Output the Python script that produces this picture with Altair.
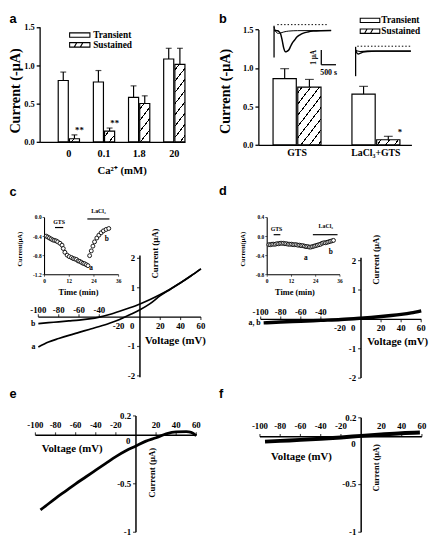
import math
import altair as alt
import pandas as pd

SERIF = "Liberation Serif"
SANS = "Liberation Sans"
INK = "black"
COL_W = [214, 218]
ROW_H = [176, 200, 155]

# ---------------- data ----------------
SERIES = ["Transient", "Sustained"]
BAR_YTICKS = [0.0, 0.5, 1.0, 1.5]

# (a) current vs external Ca2+
A_CA = ["0", "0.1", "1.8", "20"]
A_TRANS = [0.80, 0.78, 0.58, 1.08]
A_TRANS_ERR = [0.11, 0.15, 0.15, 0.14]
A_SUST = [0.04, 0.14, 0.50, 1.01]
A_SUST_ERR = [0.05, 0.04, 0.10, 0.21]
A_SIG = ["**", "**", "", ""]

# (b) GTS vs LaCl3+GTS
B_COND = ["GTS", "LaCl₃+GTS"]
B_TRANS = [0.86, 0.66]
B_TRANS_ERR = [0.13, 0.10]
B_SUST = [0.75, 0.065]
B_SUST_ERR = [0.10, 0.045]
B_SIG = ["", "*"]

# (b) inset current traces: time (s), current (uA, relative to holding)
BL1_T = [0, 120, 170, 222, 277, 333, 387, 440, 500, 555, 610, 700, 777, 880, 1000, 1150, 1333, 1600, 1943]
BL1_I = [0, -0.02, -0.08, -0.22, -0.67, -1.22, -1.45, -1.42, -1.33, -1.12, -0.89, -0.65, -0.45, -0.30, -0.18, -0.10, -0.04, -0.01, 0]
BL2_T = [0, 40, 90, 150, 220, 330, 500, 800, 1943]
BL2_I = [0.25, 0.0, -0.15, -0.20, -0.17, -0.10, -0.04, -0.01, 0]
BL_ART = [0.33, -1.83]
BL_DOT_T = [110, 1833]
BL_DOT_I = 0.40
BR1_T = [0, 40, 90, 150, 250, 400, 700, 1880]
BR1_I = [0.10, -0.12, -0.20, -0.16, -0.08, -0.03, -0.01, 0]
BR2_T = [0, 60, 150, 400, 1880]
BR2_I = [0.05, 0.0, -0.03, -0.01, 0]
BR_ART = [0.29, -1.71]
BR_DOT_T = [57, 1880]
BR_DOT_I = 0.33
SCALEBAR_S = 500
SCALEBAR_UA = 1
SCALEBAR_AT = (1608, -1.33)

# (c) I-V curves a, b and time course inset
C_V = [-100, -90, -80, -70, -60, -50, -40, -30, -20, -10, 0, 10, 20, 30, 40, 50, 60]
C_A = [-1.02, -0.85, -0.73, -0.62, -0.52, -0.42, -0.32, -0.21, -0.08, 0.08, 0.25, 0.46, 0.73, 0.95, 1.17, 1.40, 1.64]
C_B = [-0.22, -0.19, -0.16, -0.13, -0.10, -0.06, 0.00, 0.09, 0.20, 0.32, 0.45, 0.60, 0.77, 0.96, 1.17, 1.40, 1.64]
C_INSET_T = [0.8, 1.6, 2.4, 3.2, 4.0, 4.8, 5.6, 6.4, 7.5, 8.5, 9.1, 9.9, 11.0, 12.0, 13.1, 13.9, 14.7,
             15.5, 16.3, 17.1, 17.9, 18.7, 19.5, 20.3, 21.1, 21.9, 22.7, 23.5, 24.3, 25.4, 26.4, 27.5,
             28.6, 29.9, 31.2]
C_INSET_I = [-0.39, -0.41, -0.43, -0.45, -0.47, -0.48, -0.49, -0.51, -0.54, -0.58, -0.65, -0.73, -0.79,
             -0.82, -0.84, -0.86, -0.87, -0.88, -0.91, -0.92, -0.94, -0.96, -0.97, -0.99, -1.01, -0.80,
             -0.70, -0.60, -0.51, -0.43, -0.37, -0.32, -0.28, -0.25, -0.23]
C_GTS = ([5.1, 9.1], -0.21)
C_LACL = ([20.8, 31.5], -0.03)

# (d)
D_V = [-97, -80, -60, -40, -20, 0, 10, 20, 30, 40, 50, 60]
D_I = [-0.12, -0.09, -0.065, -0.035, -0.005, 0.04, 0.065, 0.095, 0.13, 0.17, 0.22, 0.29]
D_INSET_T = [0.8, 1.6, 2.4, 3.2, 4.0, 4.8, 5.6, 6.4, 7.2, 8.0, 8.8, 9.6, 10.4, 11.2, 12.0, 12.8, 13.6,
             14.4, 15.2, 16.0, 16.8, 17.6, 18.4, 19.2, 20.0, 20.8, 21.6, 22.4, 23.2, 24.0, 24.8, 25.6,
             26.4, 27.2, 28.0, 28.8, 29.6, 30.4, 31.2, 32.0, 32.8]
D_INSET_I = [-0.17, -0.17, -0.16, -0.16, -0.16, -0.15, -0.15, -0.14, -0.14, -0.14, -0.15, -0.15, -0.16,
             -0.16, -0.16, -0.17, -0.17, -0.17, -0.18, -0.18, -0.19, -0.19, -0.20, -0.21, -0.21, -0.22,
             -0.22, -0.21, -0.20, -0.19, -0.18, -0.17, -0.16, -0.14, -0.13, -0.13, -0.12, -0.11, -0.10,
             -0.09, -0.08]
D_GTS = ([3.2, 6.5], 0.04)
D_LACL = ([22.6, 34.8], 0.04)

# (e), (f)
E_V = [-95, -90, -80, -70, -60, -50, -40, -30, -20, -10, 0, 10, 20, 30, 40, 50, 55, 60]
E_I = [-0.77, -0.73, -0.65, -0.575, -0.50, -0.43, -0.36, -0.29, -0.22, -0.16, -0.11, -0.06, -0.025,
       0.015, 0.035, 0.037, 0.03, -0.005]
F_V = [-95, -80, -60, -40, -20, 0, 20, 40, 58]
F_I = [-0.05, -0.042, -0.032, -0.02, -0.006, 0.01, 0.025, 0.038, 0.045]

# tick values
CD_XTOP = [-100, -80, -60, -40]
CD_XBOT = [20, 40, 60]
CD_YT = [2, 1, -1, -2]
EF_XTOP = [-100, -80, -60, -40, -20, 20, 40, 60]
EF_YT = [0.2, -0.5, -1]
INSET_XT = [0, 12, 24, 36]
C_INSET_YT = [0.0, -0.4, -0.8, -1.2]
D_INSET_YT = [0.4, 0.0, -0.4, -0.8]

V_TITLE = "Voltage (mV)"
I_TITLE = "Current (μA)"
BAR_YTITLE = "Current (-μA)"


# ---------------- helpers ----------------
def lin(dom, rng):
    return alt.Scale(domain=dom, range=rng, nice=False, zero=False)


def lab(v):
    return f"{v:g}"


def XQ(f, s):
    return alt.X(f, scale=s, axis=None)


def YQ(f, s):
    return alt.Y(f, scale=s, axis=None)


def hrule(xs, ys, x0, x1, yv, w=1.5, dash=None):
    kw = dict(color=INK, strokeWidth=w)
    if dash:
        kw["strokeDash"] = dash
    df = pd.DataFrame({"x0": [x0], "x1": [x1], "y": [yv]})
    return alt.Chart(df).mark_rule(**kw).encode(x=XQ("x0:Q", xs), x2="x1:Q", y=YQ("y:Q", ys))


def vrule(xs, ys, xv, y0, y1, w=1.5):
    df = pd.DataFrame({"x": [xv], "y0": [y0], "y1": [y1]})
    return alt.Chart(df).mark_rule(color=INK, strokeWidth=w).encode(x=XQ("x:Q", xs), y=YQ("y0:Q", ys), y2="y1:Q")


def xticks(xs, ys, vals, at, off, size=3, th=1.2):
    df = pd.DataFrame({"v": vals, "z": [at] * len(vals)})
    return alt.Chart(df).mark_tick(orient="vertical", size=size, thickness=th, yOffset=off, color=INK).encode(
        x=XQ("v:Q", xs), y=YQ("z:Q", ys))


def yticks(xs, ys, vals, at, off, size=3, th=1.2):
    df = pd.DataFrame({"v": vals, "z": [at] * len(vals)})
    return alt.Chart(df).mark_tick(orient="horizontal", size=size, thickness=th, xOffset=off, color=INK).encode(
        x=XQ("z:Q", xs), y=YQ("v:Q", ys))


def tlabels(xs, ys, xv, yv, texts, size, align="center", baseline="alphabetic", dx=0, dy=0, angle=0):
    kw = dict(font=SERIF, fontWeight="bold", fontSize=size, align=align, baseline=baseline, dx=dx, dy=dy, color=INK)
    if angle:
        kw["angle"] = angle
    df = pd.DataFrame({"x": xv, "y": yv, "t": texts})
    return alt.Chart(df).mark_text(**kw).encode(x=XQ("x:Q", xs), y=YQ("y:Q", ys), text="t:N")


def ptext(x, y, s, size, font=SERIF, align="center", baseline="middle", angle=0):
    kw = dict(font=font, fontWeight="bold", fontSize=size, align=align, baseline=baseline, color=INK)
    if angle:
        kw["angle"] = angle
    return alt.Chart(pd.DataFrame({"t": [s]})).mark_text(**kw).encode(x=alt.value(x), y=alt.value(y), text="t:N")


def curve(xs, ys, xv, yv, w):
    df = pd.DataFrame({"x": xv, "y": yv})
    return alt.Chart(df).mark_line(color=INK, strokeWidth=w, interpolate="monotone").encode(
        x=XQ("x:Q", xs), y=YQ("y:Q", ys))


def circles(xs, ys, xv, yv):
    df = pd.DataFrame({"x": xv, "y": yv})
    return alt.Chart(df).mark_point(shape="circle", size=16, filled=True, fill="white", stroke=INK,
                                    strokeWidth=0.9, opacity=1).encode(x=XQ("x:Q", xs), y=YQ("y:Q", ys))


def hatch(w, h, spacing=7.0, lw=1.0, slope=1.3):
    a, b = w * slope, h
    k = (a + b) / (a * a + b * b)
    L = (slope * w + h) / math.sqrt(1 + slope * slope)
    d = lw / 2 / L
    stops = [alt.GradientStop(color="white", offset=0)]
    c = spacing * 0.5 / L
    while c + d < 1:
        stops += [alt.GradientStop(color="white", offset=c - d), alt.GradientStop(color=INK, offset=c - d),
                  alt.GradientStop(color=INK, offset=c + d), alt.GradientStop(color="white", offset=c + d)]
        c += spacing / L
    stops.append(alt.GradientStop(color="white", offset=1))
    return alt.LinearGradient(gradient="linear", stops=stops, x1=0, y1=0, x2=k * a, y2=k * b)


BOX = "M-1,-0.22H1V0.22H-1Z"
BOX_HATCH = "M-1,-0.22H1V0.22H-1Z M-0.55,0.22L-0.3,-0.22 M0.05,0.22L0.3,-0.22"


def legend(x, y_list, tx, size, box_size):
    out = []
    for s, yv, shp in zip(SERIES, y_list, [BOX, BOX_HATCH]):
        out.append(alt.Chart(pd.DataFrame({"s": [s]})).mark_point(
            shape=shp, size=box_size, filled=True, fill="white", stroke=INK, strokeWidth=1.1, opacity=1
        ).encode(x=alt.value(x), y=alt.value(yv)))
        out.append(ptext(tx, yv, s, size, align="left"))
    return out


def bar_layers(cats, trans, terr, sust, serr, sig, H, x_rng, pin, pout, xalign, sub_pin, y0, ppu,
               xlab_pad, xlab_size, cap, sig_dy):
    rows = []
    for i, c in enumerate(cats):
        rows.append({"cat": c, "series": "Transient", "value": trans[i], "upper": trans[i] + terr[i], "sig": ""})
        rows.append({"cat": c, "series": "Sustained", "value": sust[i], "upper": sust[i] + serr[i], "sig": sig[i]})
    df = pd.DataFrame(rows)
    xs = alt.Scale(domain=cats, range=x_rng, paddingInner=pin, paddingOuter=pout, align=xalign)
    os_ = alt.Scale(domain=SERIES, paddingInner=sub_pin, paddingOuter=0)
    ys = alt.Scale(domain=[0, 1.5], range=[y0, y0 - 1.5 * ppu], nice=False, zero=False)
    x_axis = alt.Axis(orient="bottom", offset=y0 - H, ticks=False, tickSize=0, labelAngle=0,
                      labelPadding=xlab_pad, labelFont=SERIF, labelFontWeight="bold", labelFontSize=xlab_size,
                      labelColor=INK, domainColor=INK, domainWidth=1.3, title=None, labelOverlap=False,
                      grid=False)
    y_axis = alt.Axis(orient="left", offset=-x_rng[0], values=BAR_YTICKS, format=".1f", tickSize=3.5,
                      tickColor=INK, tickWidth=1.3, labelPadding=2, labelFont=SERIF, labelFontWeight="bold",
                      labelFontSize=8.5, labelColor=INK, domainColor=INK, domainWidth=1.3, title=None,
                      grid=False, labelOverlap=False)
    XO = alt.XOffset("series:N", scale=os_)
    X0 = alt.X("cat:N", scale=xs, axis=None)
    Y0 = alt.Y("value:Q", scale=ys, axis=None)
    layers = []
    layers.append(alt.Chart(df).transform_filter(alt.datum.series == "Transient").mark_bar(
        fill="white", stroke=INK, strokeWidth=1.2).encode(
        x=alt.X("cat:N", scale=xs, axis=x_axis), xOffset=XO, y=alt.Y("value:Q", scale=ys, axis=y_axis)))
    step = (x_rng[1] - x_rng[0]) / (len(cats) - pin + 2 * pout)
    bw = step * (1 - pin)
    sub_w = bw / (2 - sub_pin) * (1 - sub_pin)
    for i, c in enumerate(cats):
        g = hatch(sub_w, sust[i] * ppu)
        layers.append(alt.Chart(df).transform_filter(
            (alt.datum.cat == c) & (alt.datum.series == "Sustained")
        ).mark_bar(fill=g, stroke=INK, strokeWidth=1.2).encode(x=X0, xOffset=XO, y=Y0))
    layers.append(alt.Chart(df).mark_rule(color=INK, strokeWidth=1.2).encode(
        x=X0, xOffset=XO, y=Y0, y2="upper:Q"))
    layers.append(alt.Chart(df).mark_tick(orient="horizontal", size=cap, thickness=1.2, color=INK).encode(
        x=X0, xOffset=XO, y=alt.Y("upper:Q", scale=ys, axis=None)))
    layers.append(alt.Chart(df).transform_filter(alt.datum.sig != "").mark_text(
        font=SERIF, fontWeight="bold", fontSize=9, baseline="alphabetic", dy=sig_dy, color=INK).encode(
        x=X0, xOffset=XO, y=alt.Y("upper:Q", scale=ys, axis=None), text="sig:N"))
    return layers


def panel(layers, w, h):
    return alt.layer(*layers).resolve_scale(x="independent", y="independent", xOffset="independent").properties(
        width=w, height=h)


def iv_axes(xs, ys, yext, xtop, xbot, yt, top_dy, bot_dy, near, fs=9):
    L = [hrule(xs, ys, -100, 60, 0), vrule(xs, ys, 0, yext[0], yext[1])]
    L.append(xticks(xs, ys, xtop, 0, -1.5))
    if xbot:
        L.append(xticks(xs, ys, xbot, 0, 1.5))
    L.append(yticks(xs, ys, yt, 0, -1.5))
    L.append(tlabels(xs, ys, xtop, [0] * len(xtop), [lab(v) for v in xtop], fs, dy=top_dy))
    if xbot:
        L.append(tlabels(xs, ys, xbot, [0] * len(xbot), [lab(v) for v in xbot], fs, dy=bot_dy))
    for v, dx, dy in near:
        L.append(tlabels(xs, ys, [v], [0], [lab(v)], fs, dx=dx, dy=dy))
    L.append(tlabels(xs, ys, [0] * len(yt), yt, [lab(v) for v in yt], fs, align="right", baseline="middle", dx=-5))
    return L


def inset(xs, ys, yt, T, I, gts, lacl, gts_lab_y, lacl_lab_y, gts_lab_x, lacl_lab_x, a_pos, b_pos):
    L = [vrule(xs, ys, 0, yt[-1], yt[0], 1.1), hrule(xs, ys, 0, 36, yt[-1], 1.1)]
    L.append(yticks(xs, ys, yt, 0, -1, size=2, th=0.9))
    L.append(xticks(xs, ys, INSET_XT, yt[-1], 1, size=2, th=0.9))
    L.append(tlabels(xs, ys, [0] * len(yt), yt, [f"{v:.1f}" for v in yt], 5.5, align="right",
                     baseline="middle", dx=-3))
    L.append(tlabels(xs, ys, INSET_XT, [yt[-1]] * len(INSET_XT), [lab(v) for v in INSET_XT], 5.5, dy=8))
    L.append(hrule(xs, ys, gts[0][0], gts[0][1], gts[1], 1.2))
    L.append(hrule(xs, ys, lacl[0][0], lacl[0][1], lacl[1], 1.2))
    L.append(tlabels(xs, ys, [gts_lab_x], [gts_lab_y], ["GTS"], 6, baseline="middle"))
    L.append(tlabels(xs, ys, [lacl_lab_x], [lacl_lab_y], ["LaCl₃"], 6, baseline="middle"))
    L.append(circles(xs, ys, T, I))
    L.append(tlabels(xs, ys, [a_pos[0]], [a_pos[1]], ["a"], 7.5, baseline="middle"))
    L.append(tlabels(xs, ys, [b_pos[0]], [b_pos[1]], ["b"], 7.5, baseline="middle"))
    return L


# ---------------- panel a ----------------
la = bar_layers(A_CA, A_TRANS, A_TRANS_ERR, A_SUST, A_SUST_ERR, A_SIG, ROW_H[0], [31.3, 179.7], 0.395,
                0.2644, 1.0, 0.1, 129, 78.3, 6.5, 10.5, 6, -2)
la += legend(72.3, [20, 30], 86, 9.5, 430)
la.append(ptext(0.5, 77, BAR_YTITLE, 14.5, baseline="top", angle=270))
la.append(ptext(115.5, 159, "Ca²⁺ (mM)", 11))
la.append(ptext(0.5, 4, "a", 13, font=SANS, align="left"))
panel_a = panel(la, COL_W[0], ROW_H[0])

# ---------------- panel b ----------------
lb = bar_layers(B_COND, B_TRANS, B_TRANS_ERR, B_SUST, B_SUST_ERR, B_SIG, ROW_H[0], [40.7, 197], 0.392,
                0.166, 0.56, 0.06, 132, 78.5, 2.5, 10, 9, -1)
lb += legend(154.7, [5, 16], 166.3, 9.5, 400)
lb.append(ptext(0.5, 77.5, BAR_YTITLE, 14.5, baseline="top", angle=270))
lb.append(ptext(0.5, 4, "b", 13, font=SANS, align="left"))
bl_xs = lin([0, 2200], [56.7, 122.7])
bl_ys = lin([-2.5, 1], [52.8, 0.3])
br_xs = lin([0, 2200], [140, 206])
br_ys = lin([-2.5, 1], [73.8, 21.3])
lb.append(hrule(bl_xs, bl_ys, BL_DOT_T[0], BL_DOT_T[1], BL_DOT_I, 1.0, dash=[1.5, 2]))
lb.append(vrule(bl_xs, bl_ys, 0, BL_ART[0], BL_ART[1], 1.3))
lb.append(curve(bl_xs, bl_ys, BL2_T, BL2_I, 1.0))
lb.append(curve(bl_xs, bl_ys, BL1_T, BL1_I, 1.5))
lb.append(hrule(br_xs, br_ys, BR_DOT_T[0], BR_DOT_T[1], BR_DOT_I, 1.0, dash=[1.5, 2]))
lb.append(vrule(br_xs, br_ys, 0, BR_ART[0], BR_ART[1], 1.3))
lb.append(curve(br_xs, br_ys, BR2_T, BR2_I, 1.2))
lb.append(curve(br_xs, br_ys, BR1_T, BR1_I, 1.3))
sb_t, sb_i = SCALEBAR_AT
lb.append(vrule(bl_xs, bl_ys, sb_t, sb_i, sb_i - SCALEBAR_UA, 1.3))
lb.append(hrule(bl_xs, bl_ys, sb_t, sb_t + SCALEBAR_S, sb_i - SCALEBAR_UA, 1.3))
lb.append(tlabels(bl_xs, bl_ys, [sb_t], [sb_i - SCALEBAR_UA / 2], [f"{SCALEBAR_UA} μA"], 7.5,
                  baseline="bottom", dy=-3, angle=270))
lb.append(tlabels(bl_xs, bl_ys, [sb_t + SCALEBAR_S / 2], [sb_i - SCALEBAR_UA], [f"{SCALEBAR_S} s"], 8,
                  baseline="top", dy=4))
panel_b = panel(lb, COL_W[1], ROW_H[0])

# ---------------- panel c ----------------
c_xs = lin([-100, 60], [30, 196])
c_ys = lin([-2, 2], [192, 72])
lc = iv_axes(c_xs, c_ys, [-2.05, 2.1], CD_XTOP, CD_XBOT, CD_YT, -4.5, 12, [(-20, -1, 12), (0, -8, 12)])
lc.append(curve(c_xs, c_ys, C_V, C_A, 1.7))
lc.append(curve(c_xs, c_ys, C_V, C_B, 1.7))
lc.append(tlabels(c_xs, c_ys, [C_V[0]], [C_A[0]], ["a"], 8, align="right", baseline="middle", dx=-3))
lc.append(tlabels(c_xs, c_ys, [C_V[0]], [C_B[0]], ["b"], 8, align="right", baseline="middle", dx=-3))
lc.append(ptext(148.7, 67, I_TITLE, 9, angle=270))
lc.append(ptext(170, 156, V_TITLE, 11))
ci_xs = lin([0, 36], [36.3, 112])
ci_ys = lin([-1.2, 0], [88.7, 30.3])
lc += inset(ci_xs, ci_ys, C_INSET_YT, C_INSET_T, C_INSET_I, C_GTS, C_LACL, -0.1, 0.14, 7.1, 26.2,
            (22.6, -1.07), (30.2, -0.46))
lc.append(ptext(11.3, 62.7, "Current(μA)", 6.5, angle=270))
lc.append(ptext(71, 106.7, "Time (min)", 8.5))
lc.append(ptext(0.5, 4.5, "c", 13, font=SANS, align="left"))
panel_c = panel(lc, COL_W[0], ROW_H[1])

# ---------------- panel d ----------------
d_xs = lin([-100, 60], [43, 207])
d_ys = lin([-2, 2], [194.3, 74.3])
ld = iv_axes(d_xs, d_ys, [-2.0, 2.1], CD_XTOP, CD_XBOT, CD_YT, -4, 12, [(-20, -1, 12), (0, -8, 12)])
ld.append(curve(d_xs, d_ys, D_V, D_I, 3.5))
ld.append(tlabels(d_xs, d_ys, [D_V[0]], [D_I[0]], ["a, b"], 8, align="right", baseline="middle", dx=-3))
ld.append(ptext(161, 73.5, I_TITLE, 9, angle=270))
ld.append(ptext(183, 157, V_TITLE, 11))
di_xs = lin([0, 36], [49.7, 124])
di_ys = lin([-0.8, 0.4], [88.7, 30.3])
ld += inset(di_xs, di_ys, D_INSET_YT, D_INSET_T, D_INSET_I, D_GTS, D_LACL, 0.15, 0.22, 4.6, 29,
            (19.1, -0.44), (31.5, -0.33))
ld.append(ptext(24.7, 62.7, "Current(μA)", 6.5, angle=270))
ld.append(ptext(78, 106, "Time (min)", 8.5))
ld.append(ptext(0.5, 3.5, "d", 13, font=SANS, align="left"))
panel_d = panel(ld, COL_W[1], ROW_H[1])

# ---------------- panel e ----------------
e_xs = lin([-100, 60], [27, 191.3])
e_ys = lin([-1, 0.2], [151.7, 32.9])
le = iv_axes(e_xs, e_ys, [-1.0, 0.2], EF_XTOP, [], EF_YT, -7, 0, [(0, -8, 9)])
le.append(curve(e_xs, e_ys, E_V, E_I, 2.8))
le.append(ptext(146, 91, I_TITLE, 9, angle=270))
le.append(ptext(64.5, 66.7, V_TITLE, 11))
le.append(ptext(0.5, 11, "e", 13, font=SANS, align="left"))
panel_e = panel(le, COL_W[0], ROW_H[2])

# ---------------- panel f ----------------
f_xs = lin([-100, 60], [42.3, 207.7])
f_ys = lin([-1, 0.2], [151.7, 34.8])
lf = iv_axes(f_xs, f_ys, [-1.0, 0.2], EF_XTOP, [], EF_YT, -8, 0, [(0, -8, 10)])
lf.append(curve(f_xs, f_ys, F_V, F_I, 4))
lf.append(ptext(161.3, 86, I_TITLE, 8.5, angle=270))
lf.append(ptext(84.7, 75, V_TITLE, 11))
lf.append(ptext(0.5, 11, "f", 13, font=SANS, align="left"))
panel_f = panel(lf, COL_W[1], ROW_H[2])

chart = alt.concat(
    panel_a, panel_b, panel_c, panel_d, panel_e, panel_f,
    columns=2, spacing=0, bounds="flush", padding=0,
).configure_view(stroke=None)

chart.save("out.html", embed_options={"renderer": "svg", "actions": False})
